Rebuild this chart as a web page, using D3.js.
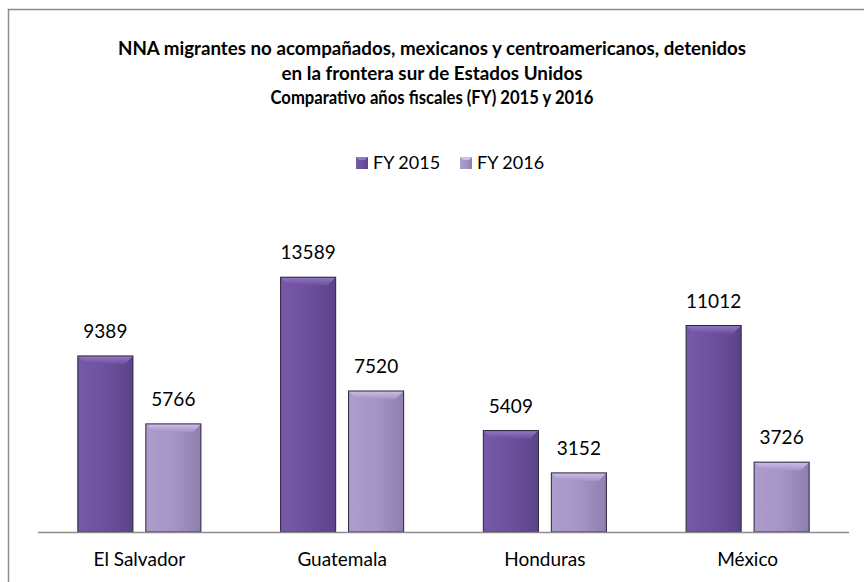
<!DOCTYPE html>
<html>
<head>
<meta charset="utf-8">
<script src="https://cdn.jsdelivr.net/npm/d3@7"></script>
<style>
  body { margin: 0; background: #fff; }
  svg text { font-family: Lato, "Open Sans", sans-serif; fill: #000; }
</style>
</head>
<body>
<div id="chart"></div>
<script>
// data
var countries = ["El Salvador", "Guatemala", "Honduras", "México"];
var seriesNames = ["FY 2015", "FY 2016"];
var fy2015 = [9389, 13589, 5409, 11012];
var fy2016 = [5766, 7520, 3152, 3726];
var titleLines = [
  "NNA migrantes no acompañados, mexicanos y centroamericanos, detenidos",
  "en la frontera sur de Estados Unidos",
  "Comparativo años fiscales (FY) 2015 y 2016"
];
var titleWidths = [628, 301, 323];

// colours for each series: main, top bevel, side light, side dark
var palette = [
  { main: "#6d509d", top: "#9479c6", light: "#7659a8", dark: "#5c4388" },
  { main: "#a594c6", top: "#cdbfe8", light: "#ad9dcd", dark: "#8f7eb0" }
];

var width = 864, height = 582;
var svg = d3.select("#chart").append("svg")
  .attr("width", width)
  .attr("height", height);

var defs = svg.append("defs");
palette.forEach(function (c, i) {
  var gt = defs.append("linearGradient")
    .attr("id", "top" + i)
    .attr("x1", 0).attr("y1", 0).attr("x2", 0).attr("y2", 1);
  gt.append("stop").attr("offset", "0%").attr("stop-color", c.top);
  gt.append("stop").attr("offset", "100%").attr("stop-color", c.main);
  var gb = defs.append("linearGradient")
    .attr("id", "body" + i)
    .attr("x1", 0).attr("y1", 0).attr("x2", 1).attr("y2", 0);
  gb.append("stop").attr("offset", "0%").attr("stop-color", c.light);
  gb.append("stop").attr("offset", "50%").attr("stop-color", c.main);
  gb.append("stop").attr("offset", "100%").attr("stop-color", c.dark);
});

// chart border
svg.append("rect")
  .attr("x", 8.5).attr("y", 9.5)
  .attr("width", 870).attr("height", 600)
  .attr("fill", "none")
  .attr("stroke", "#8c8c8c")
  .attr("stroke-width", 1.5);

// title
svg.append("g").selectAll("text")
  .data(titleLines)
  .enter().append("text")
  .attr("x", 432)
  .attr("y", function (d, i) { return 55 + i * 24.5; })
  .attr("text-anchor", "middle")
  .attr("textLength", function (d, i) { return titleWidths[i]; })
  .attr("lengthAdjust", "spacingAndGlyphs")
  .style("font-weight", "bold")
  .style("font-size", "18px")
  .text(function (d) { return d; });

// scales
var x0 = d3.scaleBand()
  .domain(countries)
  .range([38, 849])
  .paddingInner(0.393)
  .paddingOuter(0.1965);

var x1 = d3.scaleBand()
  .domain(seriesNames)
  .range([0, x0.bandwidth()])
  .paddingInner(0.19);

var y = d3.scaleLinear()
  .domain([0, 16000])
  .range([532, 232]);

// table for drawing
var rows = countries.map(function (c, i) {
  return { country: c, values: [fy2015[i], fy2016[i]] };
});

var groups = svg.append("g").selectAll("g")
  .data(rows)
  .enter().append("g")
  .attr("transform", function (d) { return "translate(" + x0(d.country) + ",0)"; });

var bars = groups.selectAll("g.bar")
  .data(function (d) {
    return d.values.map(function (v, i) { return { series: i, value: v }; });
  })
  .enter().append("g")
  .attr("class", "bar");

var bev = 8;

bars.each(function (d) {
  var g = d3.select(this);
  var x = x1(seriesNames[d.series]);
  var w = x1.bandwidth();
  var top = y(d.value), bot = y(0);
  var c = palette[d.series];

  g.append("rect")
    .attr("x", x).attr("y", top)
    .attr("width", w).attr("height", bot - top)
    .attr("fill", "url(#body" + d.series + ")");
  // top bevel
  g.append("polygon")
    .attr("points", [[x, top], [x + w, top], [x + w - bev, top + bev], [x + bev, top + bev]].join(" "))
    .attr("fill", "url(#top" + d.series + ")");
  // outline
  g.append("rect")
    .attr("x", x).attr("y", top)
    .attr("width", w).attr("height", bot - top)
    .attr("fill", "none")
    .attr("stroke", "#2b2238")
    .attr("stroke-width", 1);

  // value label
  g.append("text")
    .attr("x", x + w / 2)
    .attr("y", top - 18)
    .attr("text-anchor", "middle")
    .style("font-size", "19px")
    .text(d.value);
});

// axis line
svg.append("line")
  .attr("x1", 38).attr("x2", 849)
  .attr("y1", 532.5).attr("y2", 532.5)
  .attr("stroke", "#8c8c8c")
  .attr("stroke-width", 1.5);

// category labels
svg.append("g").selectAll("text")
  .data(countries)
  .enter().append("text")
  .attr("x", function (d) { return x0(d) + x0.bandwidth() / 2; })
  .attr("y", 566)
  .attr("text-anchor", "middle")
  .style("font-size", "19px")
  .text(function (d) { return d; });

// legend
var legend = svg.append("g").selectAll("g")
  .data(seriesNames)
  .enter().append("g")
  .attr("transform", function (d, i) { return "translate(" + (356 + i * 104) + ",157)"; });

legend.append("rect")
  .attr("width", 12).attr("height", 12)
  .attr("fill", function (d, i) { return "url(#body" + i + ")"; });
legend.append("polygon")
  .attr("points", "0,0 12,0 9,3 3,3")
  .attr("fill", function (d, i) { return palette[i].top; });

legend.append("text")
  .attr("x", 17)
  .attr("y", 12)
  .style("font-size", "18px")
  .text(function (d) { return d; });
</script>
</body>
</html>
